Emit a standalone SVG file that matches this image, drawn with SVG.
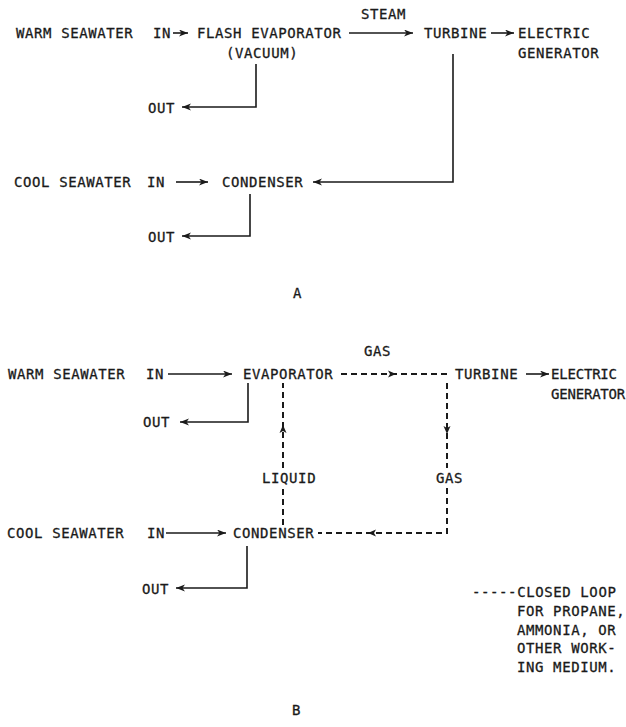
<svg xmlns="http://www.w3.org/2000/svg" width="626" height="727" viewBox="0 0 626 727">
<style>
text{font-family:"DejaVu Sans Mono","Liberation Mono",monospace;font-size:14px;letter-spacing:0.6px;fill:#1a1a1a;stroke:#1a1a1a;stroke-width:0.3}
.ln{stroke:#1a1a1a;stroke-width:1.6;fill:none}
.ar{stroke:#1a1a1a;stroke-width:1.6;fill:none;marker-end:url(#ah)}
.dl{stroke:#1a1a1a;stroke-width:2;fill:none;stroke-dasharray:6 4}
.hd{fill:#1a1a1a}
.nar{letter-spacing:-0.2px}
</style>
<defs>
<marker id="ah" markerUnits="userSpaceOnUse" markerWidth="10" markerHeight="8" refX="9" refY="3.5" orient="auto">
<path d="M0,0 L9,3.5 L0,7 L2.5,3.5 z" fill="#1a1a1a"/>
</marker>
<path id="mh" d="M4,0 L-4,-3.5 L-2,0 L-4,3.5 z"/>
</defs>

<g id="connectors">
<!-- A -->
<line class="ar" x1="173" y1="33" x2="188" y2="33"/>
<line class="ar" x1="349" y1="33" x2="413" y2="33"/>
<line class="ar" x1="491" y1="33" x2="514" y2="33"/>
<polyline class="ar" points="256,64 256,107 182,107"/>
<polyline class="ar" points="453,54 453,182 313,182"/>
<line class="ar" x1="176" y1="182" x2="208" y2="182"/>
<polyline class="ar" points="250,194 250,236 182,236"/>
<!-- B -->
<line class="ar" x1="168" y1="374" x2="232" y2="374"/>
<line class="ar" x1="526" y1="374" x2="549" y2="374"/>
<polyline class="ar" points="248,383 248,422 180,422"/>
<line class="ar" x1="166" y1="533" x2="226" y2="533"/>
<polyline class="ar" points="247,546 247,588 176,588"/>
<line class="dl" x1="341" y1="374" x2="447" y2="374"/>
<use class="hd" href="#mh" transform="translate(392,374)"/>
<line class="dl" x1="447" y1="383" x2="447" y2="468"/>
<polyline class="dl" points="447,488 447,533 318,533"/>
<use class="hd" href="#mh" transform="translate(447,430) rotate(90)"/>
<use class="hd" href="#mh" transform="translate(372,533) rotate(180)"/>
<line class="dl" x1="283" y1="525" x2="283" y2="488"/>
<line class="dl" x1="283" y1="468" x2="283" y2="383"/>
<use class="hd" href="#mh" transform="translate(283,429) rotate(-90)"/>
</g>

<g id="warm-in-a"><text x="16" y="38">WARM SEAWATER</text><text x="153" y="38">IN</text></g>
<g id="flash-evaporator"><text x="197" y="38">FLASH EVAPORATOR</text><text x="226" y="58">(VACUUM)</text></g>
<g id="steam-label"><text x="361" y="19">STEAM</text></g>
<g id="turbine-a"><text x="424" y="38">TURBINE</text></g>
<g id="generator-a"><text x="518" y="38">ELECTRIC</text><text x="518" y="58">GENERATOR</text></g>
<g id="out-a1"><text x="148" y="113">OUT</text></g>
<g id="cool-in-a"><text x="14" y="187">COOL SEAWATER</text><text x="147" y="187">IN</text></g>
<g id="condenser-a"><text x="222" y="187">CONDENSER</text></g>
<g id="out-a2"><text x="148" y="242">OUT</text></g>
<g id="label-a"><text x="293" y="298">A</text></g>

<g id="warm-in-b"><text x="8" y="379">WARM SEAWATER</text><text x="146" y="379">IN</text></g>
<g id="evaporator-b"><text x="243" y="379">EVAPORATOR</text></g>
<g id="gas-label-1"><text x="364" y="356">GAS</text></g>
<g id="turbine-b"><text x="455" y="379">TURBINE</text></g>
<g id="generator-b"><text class="nar" x="551" y="379">ELECTRIC</text><text class="nar" x="551" y="399">GENERATOR</text></g>
<g id="out-b1"><text x="143" y="427">OUT</text></g>
<g id="liquid-label"><text x="262" y="483">LIQUID</text></g>
<g id="gas-label-2"><text x="436" y="483">GAS</text></g>
<g id="cool-in-b"><text x="7" y="538">COOL SEAWATER</text><text x="147" y="538">IN</text></g>
<g id="condenser-b"><text x="233" y="538">CONDENSER</text></g>
<g id="out-b2"><text x="142" y="594">OUT</text></g>
<g id="legend"><text x="472" y="597">-----CLOSED LOOP</text><text x="517" y="616">FOR PROPANE,</text><text x="517" y="635">AMMONIA, OR</text><text x="517" y="653">OTHER WORK-</text><text x="517" y="672">ING MEDIUM.</text></g>
<g id="label-b"><text x="292" y="715">B</text></g>
</svg>
